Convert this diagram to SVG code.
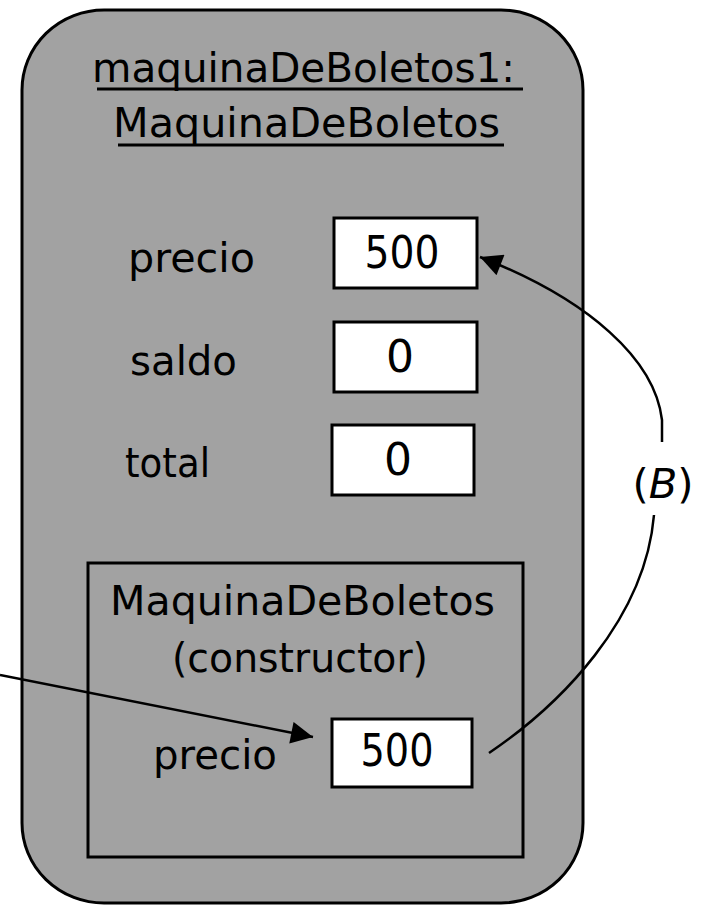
<svg xmlns="http://www.w3.org/2000/svg" width="705" height="907" viewBox="0 0 705 907">
<style>
  .t { font-family: "DejaVu Sans", "Liberation Sans", sans-serif; font-size: 40px; fill: #000; }
  .v { font-family: "DejaVu Sans", "Liberation Sans", sans-serif; font-size: 44px; fill: #000; }
  .frame { fill: #a2a2a2; stroke: #000; stroke-width: 3; }
  .box { fill: #fff; stroke: #000; stroke-width: 3; }
  .ul { stroke: #000; stroke-width: 3; }
  .conn { fill: none; stroke: #000; stroke-width: 2.5; }
</style>
<defs>
  <marker id="ah" viewBox="0 0 10 10" refX="10" refY="5" markerUnits="userSpaceOnUse" markerWidth="28" markerHeight="22" orient="auto">
    <path d="M0,0 L10,5 L0,10 z" fill="#000"/>
  </marker>
</defs>
<rect width="705" height="907" fill="#fff"/>

<g id="objeto">
  <rect class="frame" x="22" y="10" width="561" height="893" rx="82" ry="80"/>
  <text class="t" x="303.5" y="82" text-anchor="middle" textLength="423" lengthAdjust="spacingAndGlyphs">maquinaDeBoletos1:</text>
  <line class="ul" x1="97" y1="89" x2="523" y2="89"/>
  <text class="t" x="306.5" y="137" text-anchor="middle" textLength="387" lengthAdjust="spacingAndGlyphs">MaquinaDeBoletos</text>
  <line class="ul" x1="118" y1="145" x2="504" y2="145"/>
</g>

<g id="campo-precio">
  <text class="t" x="128" y="272" textLength="127" lengthAdjust="spacingAndGlyphs">precio</text>
  <rect class="box" x="334" y="218" width="143" height="70"/>
  <text class="v" x="402" y="268" text-anchor="middle" textLength="75" lengthAdjust="spacingAndGlyphs">500</text>
</g>

<g id="campo-saldo">
  <text class="t" x="130" y="375" textLength="107" lengthAdjust="spacingAndGlyphs">saldo</text>
  <rect class="box" x="334" y="322" width="143" height="70"/>
  <text class="v" x="400" y="372" text-anchor="middle">0</text>
</g>

<g id="campo-total">
  <text class="t" x="125" y="477" textLength="85" lengthAdjust="spacingAndGlyphs">total</text>
  <rect class="box" x="332" y="425" width="142" height="70"/>
  <text class="v" x="398" y="475" text-anchor="middle">0</text>
</g>

<g id="constructor">
  <rect x="88" y="563" width="435" height="294" fill="none" stroke="#000" stroke-width="3"/>
  <text class="t" x="302.5" y="615" text-anchor="middle" textLength="385" lengthAdjust="spacingAndGlyphs">MaquinaDeBoletos</text>
  <text class="t" x="300" y="672" text-anchor="middle" textLength="256" lengthAdjust="spacingAndGlyphs">(constructor)</text>
  <text class="t" x="153" y="769" textLength="124" lengthAdjust="spacingAndGlyphs">precio</text>
  <rect class="box" x="332" y="719" width="140" height="68"/>
  <text class="v" x="397" y="766" text-anchor="middle" textLength="73" lengthAdjust="spacingAndGlyphs">500</text>
</g>

<g id="conectores">
  <path class="conn" stroke-width="3" d="M0 675 L313 737" marker-end="url(#ah)"/>
  <path class="conn" d="M489 753 C560 705, 645 620, 654 515"/>
  <path class="conn" d="M662 442 L662 420 C655 360, 590 300, 480 257" marker-end="url(#ah)"/>
  <text class="t" x="663" y="498" text-anchor="middle" textLength="61" lengthAdjust="spacingAndGlyphs">(<tspan font-style="italic">B</tspan>)</text>
</g>
</svg>
